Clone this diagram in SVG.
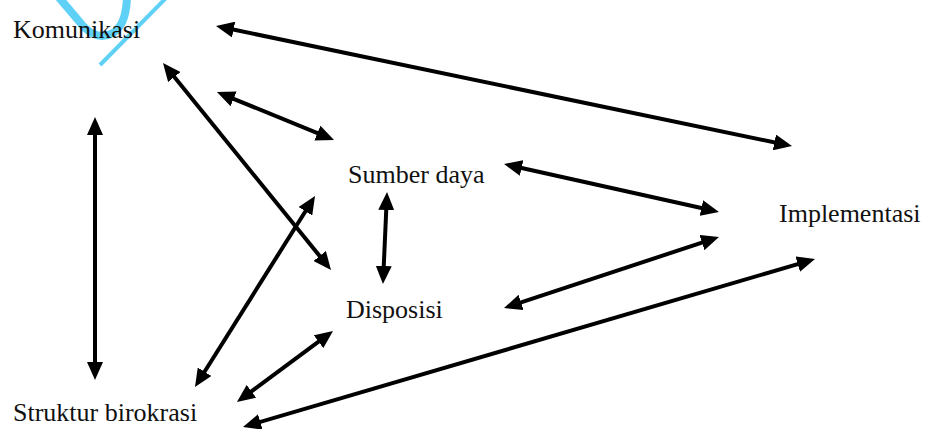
<svg xmlns="http://www.w3.org/2000/svg" width="925" height="429" viewBox="0 0 925 429">
  <defs>
    <marker id="head" viewBox="0 0 18 16" markerWidth="18" markerHeight="16" refX="8" refY="8" markerUnits="userSpaceOnUse" orient="auto-start-reverse">
      <path d="M0,0 L18,8 L0,16 z" fill="#000"/>
    </marker>
  </defs>
  <style>
    .lbl { font-family: "Liberation Serif", "Times New Roman", serif; font-size: 26px; fill: #111; }
    .link { stroke: #000; stroke-width: 4; fill: none; marker-start: url(#head); marker-end: url(#head); }
    .mark { stroke: #5fd1f6; fill: none; stroke-linecap: butt; }
  </style>

  <rect width="925" height="429" fill="#fff"/>

  <!-- light blue stamp in the top-left corner -->
  <g id="stamp">
    <path class="mark" d="M56,-6 L84,27 Q98,41 113,33 Q127,24 127,-6" stroke-width="8"/>
    <path class="mark" d="M168,-4 L100,65" stroke-width="4"/>
  </g>

  <!-- connectors -->
  <g id="connectors">
    <line class="link" x1="225.8" y1="28" x2="782.2" y2="144"/>
    <line class="link" x1="226.2" y1="95.8" x2="324.8" y2="136.2"/>
    <line class="link" x1="169.3" y1="70.8" x2="324.7" y2="262.2"/>
    <line class="link" x1="95" y1="127" x2="95" y2="370"/>
    <line class="link" x1="513.8" y1="166.2" x2="709.2" y2="209.8"/>
    <line class="link" x1="386.6" y1="202" x2="383.4" y2="274"/>
    <line class="link" x1="513.5" y1="304.9" x2="709.5" y2="240.1"/>
    <line class="link" x1="309.7" y1="204.5" x2="200.3" y2="378.5"/>
    <line class="link" x1="325" y1="336.9" x2="245" y2="396.1"/>
    <line class="link" x1="805.4" y1="261.8" x2="252.6" y2="424.2"/>
  </g>

  <!-- nodes -->
  <g id="komunikasi"><text class="lbl" x="13" y="38">Komunikasi</text></g>
  <g id="sumber-daya"><text class="lbl" x="348" y="183">Sumber daya</text></g>
  <g id="disposisi"><text class="lbl" x="346" y="318">Disposisi</text></g>
  <g id="implementasi"><text class="lbl" x="779" y="222">Implementasi</text></g>
  <g id="struktur-birokrasi"><text class="lbl" x="13" y="421">Struktur birokrasi</text></g>
</svg>
